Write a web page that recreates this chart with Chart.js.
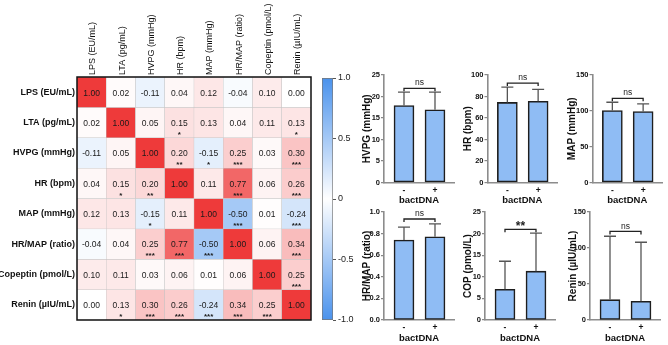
<!DOCTYPE html>
<html><head><meta charset="utf-8">
<script src="https://cdn.jsdelivr.net/npm/chart.js@4.4.1/dist/chart.umd.min.js"></script>
<style>
html,body{margin:0;padding:0;background:#fff;overflow:hidden}
body{width:668px;height:345px;position:relative}
canvas{position:absolute}
</style></head><body>
<canvas id="heat" width="318" height="345" style="left:0;top:0"></canvas>
<canvas id="cbar" width="50" height="345" style="left:315px;top:0"></canvas>
<script>
/* ── data ── */
const rowLabels = ['LPS (EU/mL)', 'LTA (pg/mL)', 'HVPG (mmHg)', 'HR (bpm)', 'MAP (mmHg)', 'HR/MAP (ratio)', 'Copeptin (pmol/L)', 'Renin (µIU/mL)'];
const colLabels = rowLabels;

const corr = [
  [1.00, 0.02, -0.11, 0.04, 0.12, -0.04, 0.10, 0.00],
  [0.02, 1.00, 0.05, 0.15, 0.13, 0.04, 0.11, 0.13],
  [-0.11, 0.05, 1.00, 0.20, -0.15, 0.25, 0.03, 0.30],
  [0.04, 0.15, 0.20, 1.00, 0.11, 0.77, 0.06, 0.26],
  [0.12, 0.13, -0.15, 0.11, 1.00, -0.50, 0.01, -0.24],
  [-0.04, 0.04, 0.25, 0.77, -0.50, 1.00, 0.06, 0.34],
  [0.10, 0.11, 0.03, 0.06, 0.01, 0.06, 1.00, 0.25],
  [0.00, 0.13, 0.30, 0.26, -0.24, 0.34, 0.25, 1.00]
];
const stars = [
  ['', '', '', '', '', '', '', ''],
  ['', '', '', '*', '', '', '', '*'],
  ['', '', '', '**', '*', '***', '', '***'],
  ['', '*', '**', '', '', '***', '', '***'],
  ['', '', '*', '', '', '***', '', '***'],
  ['', '', '***', '***', '***', '', '', '***'],
  ['', '', '', '', '', '', '', '***'],
  ['', '*', '***', '***', '***', '***', '***', '']
];

const groups = ['-', '+'];
const hvpgMean = [17.9, 16.9], hvpgSD = [3.1, 4.1];
const hrMean = [74.5, 75.6], hrSD = [14.3, 11.0];
const mapMean = [100.5, 99.0], mapSD = [11.5, 10.8];
const ratioMean = [0.74, 0.77], ratioSD = [0.12, 0.12];
const copMean = [7.1, 11.3], copSD = [6.5, 8.8];
const reninMean = [28.3, 26.0], reninSD = [88.0, 82.0];
const bracketVals = [21.9, 92.5, 117.5, 0.935, 21.0, 123];
const sigLabels = ['ns', 'ns', 'ns', 'ns', '**', 'ns'];

const FONT = "'Liberation Sans', Arial, sans-serif";
const RED = [238, 58, 58];
const BLUE = [74, 146, 236];
const BAR_FILL = '#8fbcf4';

Chart.defaults.font.family = FONT;
Chart.defaults.color = '#111';

function cellColor(v) {
  const c = v >= 0 ? RED : BLUE;
  const t = Math.min(1, Math.abs(v));
  const m = c.map(k => Math.round(255 - (255 - k) * t));
  return 'rgb(' + m.join(',') + ')';
}

/* ── heatmap ── */
const cellText = {
  id: 'cellText',
  afterDatasetsDraw(chart) {
    const c = chart.ctx;
    c.save();
    c.textAlign = 'center'; c.textBaseline = 'middle'; c.fillStyle = '#1a1a1a';
    chart.data.datasets.forEach((ds, i) => {
      chart.getDatasetMeta(i).data.forEach((el, j) => {
        const p = el.getCenterPoint();
        c.font = '8.5px ' + FONT;
        c.fillText(corr[i][j].toFixed(2), p.x, p.y + 1);
        if (stars[i][j]) {
          c.font = 'bold 8px ' + FONT;
          c.fillText(stars[i][j], p.x, p.y + 12);
        }
      });
    });
    const a = chart.chartArea;
    c.strokeStyle = '#111'; c.lineWidth = 1.5;
    c.strokeRect(a.left, a.top, a.right - a.left, a.bottom - a.top);
    c.restore();
  }
};

new Chart(document.getElementById('heat'), {
  type: 'bar',
  data: {
    labels: colLabels,
    datasets: corr.map((row, i) => ({
      data: row.map(() => [7 - i, 8 - i]),
      backgroundColor: row.map(cellColor),
      borderColor: '#c4c4c4', borderWidth: 0.5, borderSkipped: false,
      barPercentage: 1, categoryPercentage: 1, grouped: false
    }))
  },
  options: {
    responsive: false, animation: false, events: [],
    layout: { padding: { left: 0, top: 0, right: 7, bottom: 25 } },
    plugins: { legend: { display: false }, tooltip: { enabled: false } },
    scales: {
      x: {
        position: 'top',
        grid: { display: false, drawTicks: false }, border: { display: false },
        ticks: { autoSkip: false, minRotation: 90, maxRotation: 90, padding: 2, labelOffset: 12, font: { size: 9 }, color: '#111' },
        afterFit: s => { s.height = 77; }
      },
      y: {
        type: 'linear', min: 0, max: 8,
        grid: { display: false, drawTicks: false }, border: { display: false },
        afterBuildTicks: s => { s.ticks = rowLabels.map((_, i) => ({ value: 7.5 - i })); },
        ticks: { callback: (v, i) => rowLabels[i], padding: 2, font: { size: 9, weight: 'bold' }, color: '#111' },
        afterFit: s => { s.width = 77; }
      }
    }
  },
  plugins: [cellText]
});

/* ── colour bar ── */
new Chart(document.getElementById('cbar'), {
  type: 'bar',
  data: {
    labels: [''],
    datasets: [{
      data: [[-1, 1]],
      backgroundColor: ctx => {
        const a = ctx.chart.chartArea;
        if (!a) return '#fff';
        const g = ctx.chart.ctx.createLinearGradient(0, a.top, 0, a.bottom);
        const b = 'rgb(' + BLUE.join(',') + ')';
        g.addColorStop(0, b); g.addColorStop(0.5, '#fff'); g.addColorStop(1, b);
        return g;
      },
      borderColor: '#777', borderWidth: 1, borderSkipped: false,
      barPercentage: 1, categoryPercentage: 1
    }]
  },
  options: {
    responsive: false, animation: false, events: [],
    layout: { padding: { left: 7, top: 78, right: 0, bottom: 25 } },
    plugins: { legend: { display: false }, tooltip: { enabled: false } },
    scales: {
      x: { display: false },
      y: {
        position: 'right', min: -1, max: 1,
        ticks: { stepSize: 0.5, callback: v => v === 0 ? '0' : v.toFixed(1), font: { size: 9 }, color: '#222', padding: 2 },
        grid: { drawOnChartArea: false, tickLength: 3, color: '#555' },
        border: { display: false },
        afterFit: s => { s.width = 32; }
      }
    }
  }
});

/* ── bar panels ── */
const errBars = {
  id: 'errBars',
  afterDatasetsDraw(chart, args, o) {
    const c = chart.ctx, y = chart.scales.y;
    const els = chart.getDatasetMeta(0).data;
    c.save();
    c.strokeStyle = '#555'; c.lineWidth = 1.3;
    els.forEach((el, i) => {
      const top = y.getPixelForValue(o.mean[i] + o.sd[i]);
      c.beginPath();
      c.moveTo(el.x, el.y); c.lineTo(el.x, top);
      c.moveTo(el.x - 6, top); c.lineTo(el.x + 6, top);
      c.stroke();
    });
    const yb = y.getPixelForValue(o.bracket);
    c.strokeStyle = '#222'; c.lineWidth = 1.3;
    c.beginPath();
    c.moveTo(els[0].x, yb + 3); c.lineTo(els[0].x, yb); c.lineTo(els[1].x, yb); c.lineTo(els[1].x, yb + 3);
    c.stroke();
    c.fillStyle = '#222'; c.textAlign = 'center'; c.textBaseline = 'bottom';
    c.font = o.sig === 'ns' ? '8.5px ' + FONT : 'bold 12px ' + FONT;
    c.fillText(o.sig, (els[0].x + els[1].x) / 2, o.sig === 'ns' ? yb - 1 : yb + 3);
    c.restore();
  }
};

const panels = [
  { title: 'HVPG (mmHg)', mean: hvpgMean, sd: hvpgSD, max: 25, step: 5, dec: 0, axisX: 384, titleX: 367, row: 0 },
  { title: 'HR (bpm)', mean: hrMean, sd: hrSD, max: 100, step: 20, dec: 0, axisX: 487.5, titleX: 468, row: 0 },
  { title: 'MAP (mmHg)', mean: mapMean, sd: mapSD, max: 150, step: 50, dec: 0, axisX: 592.5, titleX: 572, row: 0 },
  { title: 'HR/MAP (ratio)', mean: ratioMean, sd: ratioSD, max: 1, step: 0.2, dec: 1, axisX: 384, titleX: 367, row: 1 },
  { title: 'COP (pmol/L)', mean: copMean, sd: copSD, max: 25, step: 5, dec: 0, axisX: 484.5, titleX: 467.5, row: 1 },
  { title: 'Renin (µIU/mL)', mean: reninMean, sd: reninSD, max: 150, step: 50, dec: 0, axisX: 590, titleX: 573, row: 1 }
];

panels.forEach((p, k) => {
  const w = p.axisX - p.titleX + 5;
  const top = p.row ? 201 : 64;
  const h = p.row ? 144 : 146;
  const xH = p.row ? 25 : 27.5;
  const cv = document.createElement('canvas');
  cv.width = w + 72; cv.height = h;
  cv.style.left = (p.axisX - w) + 'px'; cv.style.top = top + 'px';
  document.body.appendChild(cv);

  new Chart(cv, {
    type: 'bar',
    data: {
      datasets: [{
        data: p.mean.map((m, i) => ({ x: i, y: m })),
        backgroundColor: BAR_FILL, borderColor: '#1e1e1e', borderWidth: 1.6,
        borderSkipped: false, barThickness: 20
      }]
    },
    options: {
      responsive: false, animation: false, events: [],
      layout: { padding: { left: 0, top: 11, right: 2, bottom: 0 } },
      plugins: {
        legend: { display: false }, tooltip: { enabled: false },
        errBars: { mean: p.mean, sd: p.sd, bracket: bracketVals[k], sig: sigLabels[k] }
      },
      scales: {
        x: {
          type: 'linear', min: -0.645, max: 1.613, offset: false,
          afterBuildTicks: s => { s.ticks = groups.map((_, i) => ({ value: i })); },
          ticks: { callback: (v, i) => groups[i], font: { size: 8.5, weight: 'bold' }, color: '#111', padding: 3, maxRotation: 0 },
          grid: { display: false, drawTicks: false, offset: false },
          border: { color: '#8c8c8c', width: 1.6 },
          title: { display: true, text: 'bactDNA', font: { size: 9.5, weight: 'bold' }, color: '#111', padding: { top: 0, bottom: p.row ? 1 : 4 } },
          afterFit: s => { s.height = xH; }
        },
        y: {
          min: 0, max: p.max,
          ticks: { stepSize: p.step, callback: v => v.toFixed(p.dec), font: { size: 7.5, weight: 'bold' }, color: '#111', padding: 1 },
          grid: { drawOnChartArea: false, tickLength: 3, color: '#888', lineWidth: 1.2 },
          border: { color: '#8c8c8c', width: 1.6 },
          title: { display: true, text: p.title, font: { size: 10, weight: 'bold', lineHeight: 1 }, color: '#111', padding: 0 },
          afterFit: s => { s.width = w; }
        }
      }
    },
    plugins: [errBars]
  });
});
</script>
</body></html>
